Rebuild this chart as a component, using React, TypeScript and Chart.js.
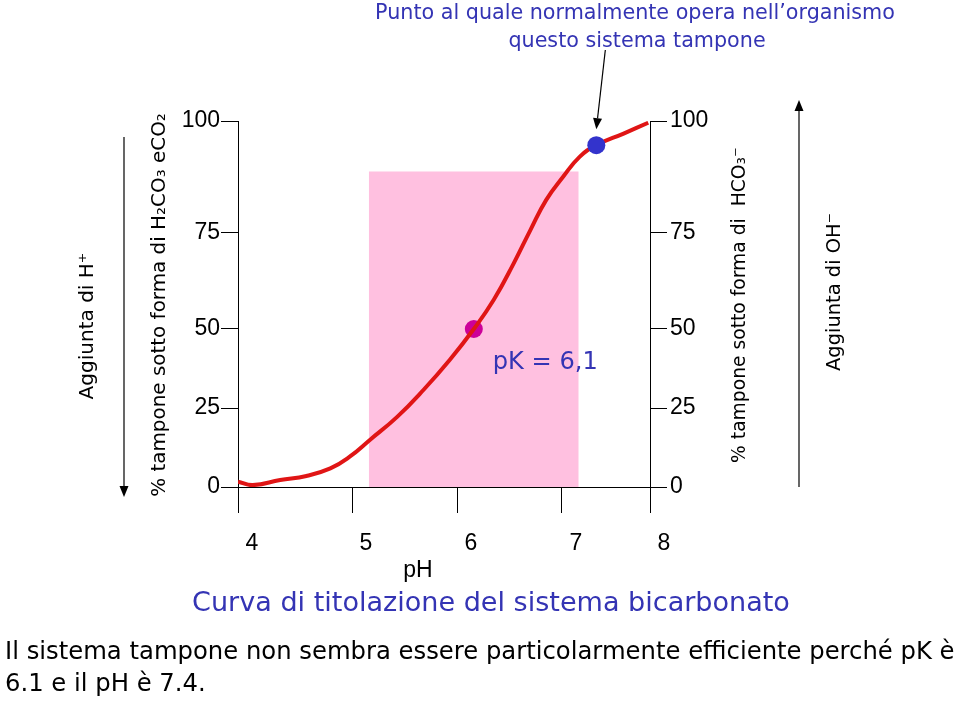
import React, { useEffect, useRef } from 'react';
import { Chart, registerables, LinearScale } from 'chart.js';

Chart.register(...registerables);

// ---------- data ----------
const PH_TICKS = [4, 5, 6, 7, 8];
const PCT_TICKS = [0, 25, 50, 75, 100];

const CURVE_PH = [4.0, 4.13, 4.37, 4.6, 4.81, 4.98, 5.17, 5.43, 5.68, 5.93, 6.16, 6.35, 6.54, 6.7, 6.85, 7.015, 7.2, 7.39, 7.7, 7.98];
const CURVE_PCT = [1.7, 0.6, 2.2, 3.5, 5.9, 9.6, 14.9, 22.2, 30.7, 40.2, 50.0, 57.6, 67.1, 75.7, 82.4, 87.6, 92.0, 94.6, 97.2, 99.6];

const PK_POINT = [6.16, 50];
const BLOOD_POINT = [7.39, 94.6];
const BUFFER_RANGE_PH = [5.16, 7.19];
const BUFFER_RANGE_TOP = 88.7;

// ---------- texts ----------
const TOP_NOTE = ['Punto al quale normalmente opera nell\u2019organismo', 'questo sistema tampone'];
const PK_LABEL = 'pK = 6,1';
const X_TITLE = 'pH';
const CAPTION = 'Curva di titolazione del sistema bicarbonato';
const NOTE = ['Il sistema tampone non sembra essere particolarmente efficiente perch\u00e9 pK \u00e8', '6.1 e il pH \u00e8 7.4.'];
const LEFT_OUTER = 'Aggiunta di H\u207A';
const LEFT_TITLE = '% tampone sotto forma di H\u2082CO\u2083 eCO\u2082';
const RIGHT_TITLE = '% tampone sotto forma di  HCO\u2083\u207B';
const RIGHT_OUTER = 'Aggiunta di OH\u207B';

// ---------- scale layout (the drawing's uneven tick spacing) ----------
const X_TICK_FRACS = [0, 0.2767, 0.5316, 0.7864, 1];
const Y_TICK_FRACS = [0, 0.2158, 0.4317, 0.694, 1];
const WARPS: Record<string, { values: number[]; fracs: number[] }> = {
  x: { values: PH_TICKS, fracs: X_TICK_FRACS },
  y: { values: PCT_TICKS, fracs: Y_TICK_FRACS },
  y2: { values: PCT_TICKS, fracs: Y_TICK_FRACS },
};

function interp(from: number[], to: number[], v: number) {
  const n = from.length;
  let i = 0;
  if (v >= from[n - 1]) i = n - 2;
  else if (v > from[0]) {
    while (i < n - 2 && v > from[i + 1]) i++;
  }
  const t = (v - from[i]) / (from[i + 1] - from[i]);
  return to[i] + t * (to[i + 1] - to[i]);
}

class WarpScale extends LinearScale {
  static id = 'warp';
  static defaults = LinearScale.defaults;
  getPixelForValue(value: any) {
    if (value === null || value === undefined || Number.isNaN(value)) return NaN;
    const w = WARPS[(this as any).id];
    if (!w) return super.getPixelForValue(value);
    return this.getPixelForDecimal(interp(w.values, w.fracs, value));
  }
  getValueForPixel(pixel: number) {
    const w = WARPS[(this as any).id];
    if (!w) return super.getValueForPixel(pixel);
    return interp(w.fracs, w.values, this.getDecimalForPixel(pixel));
  }
}
Chart.register(WarpScale as any);

// ---------- styles ----------
const BLUE = '#3434b4';
const TEXT_FAMILY = '"DejaVu Sans", sans-serif';
const NUM_FAMILY = '"Liberation Sans", Arial, sans-serif';

function sizeFor(ctx: CanvasRenderingContext2D, text: string, width: number, family: string) {
  ctx.font = `100px ${family}`;
  return (100 * width) / ctx.measureText(text).width;
}

function put(ctx: CanvasRenderingContext2D, text: string, x: number, y: number, size: number, color: string, align: CanvasTextAlign, family: string, rot = 0) {
  ctx.save();
  ctx.translate(x, y);
  if (rot) ctx.rotate(rot);
  ctx.font = `${size}px ${family}`;
  ctx.fillStyle = color;
  ctx.textAlign = align;
  ctx.textBaseline = 'middle';
  ctx.fillText(text, 0, 0);
  ctx.restore();
}

function arrow(ctx: CanvasRenderingContext2D, x1: number, y1: number, x2: number, y2: number, head = 11, half = 4.5) {
  const a = Math.atan2(y2 - y1, x2 - x1);
  const bx = x2 - Math.cos(a) * head;
  const by = y2 - Math.sin(a) * head;
  ctx.beginPath();
  ctx.moveTo(x1, y1);
  ctx.lineTo(bx, by);
  ctx.stroke();
  ctx.beginPath();
  ctx.moveTo(x2, y2);
  ctx.lineTo(bx + Math.sin(a) * half, by - Math.cos(a) * half);
  ctx.lineTo(bx - Math.sin(a) * half, by + Math.cos(a) * half);
  ctx.closePath();
  ctx.fill();
}

const annotations = {
  id: 'annotations',
  afterDraw(chart: any) {
    const ctx: CanvasRenderingContext2D = chart.ctx;
    const xs = chart.scales.x;
    const ys = chart.scales.y;
    ctx.save();

    const topSize = sizeFor(ctx, TOP_NOTE[0], 520, TEXT_FAMILY);
    put(ctx, TOP_NOTE[0], 635, 14, topSize, BLUE, 'center', TEXT_FAMILY);
    put(ctx, TOP_NOTE[1], 637, 42, topSize, BLUE, 'center', TEXT_FAMILY);

    const px = xs.getPixelForValue(PK_POINT[0]);
    const py = ys.getPixelForValue(PK_POINT[1]);
    put(ctx, PK_LABEL, px + 19, py + 34, sizeFor(ctx, PK_LABEL, 105, TEXT_FAMILY), BLUE, 'left', TEXT_FAMILY);

    put(ctx, X_TITLE, 418, 571, 23, '#000', 'center', NUM_FAMILY);
    put(ctx, CAPTION, 491, 604, sizeFor(ctx, CAPTION, 598, TEXT_FAMILY), BLUE, 'center', TEXT_FAMILY);

    const noteSize = sizeFor(ctx, NOTE[0], 950, TEXT_FAMILY);
    put(ctx, NOTE[0], 5, 653, noteSize, '#000', 'left', TEXT_FAMILY);
    put(ctx, NOTE[1], 5, 685, noteSize, '#000', 'left', TEXT_FAMILY);

    const up = -Math.PI / 2;
    put(ctx, LEFT_OUTER, 88, 326, sizeFor(ctx, LEFT_OUTER, 147, TEXT_FAMILY), '#000', 'center', TEXT_FAMILY, up);
    put(ctx, LEFT_TITLE, 160, 305, sizeFor(ctx, LEFT_TITLE, 384, TEXT_FAMILY), '#000', 'center', TEXT_FAMILY, up);
    put(ctx, RIGHT_TITLE, 740, 305, sizeFor(ctx, RIGHT_TITLE, 316, TEXT_FAMILY), '#000', 'center', TEXT_FAMILY, up);
    put(ctx, RIGHT_OUTER, 835, 292, sizeFor(ctx, RIGHT_OUTER, 158, TEXT_FAMILY), '#000', 'center', TEXT_FAMILY, up);

    ctx.strokeStyle = '#000';
    ctx.fillStyle = '#000';
    ctx.lineWidth = 1.2;
    arrow(ctx, 124, 137, 124, 497);
    arrow(ctx, 799, 487, 799, 100);
    const bx = xs.getPixelForValue(BLOOD_POINT[0]);
    const by = ys.getPixelForValue(BLOOD_POINT[1]);
    arrow(ctx, bx + 9, 50, bx, by - 16);

    ctx.restore();
  },
};

const tickFont = { family: NUM_FAMILY, size: 23 };

export default function App() {
  const ref = useRef<HTMLCanvasElement>(null);
  useEffect(() => {
    if (!ref.current) return;
    const chart = new Chart(ref.current, {
      type: 'line',
      data: {
        datasets: [
          {
            label: 'blood',
            data: [{ x: BLOOD_POINT[0], y: BLOOD_POINT[1] }],
            showLine: false,
            pointRadius: 9,
            pointBackgroundColor: '#3333cc',
            pointBorderWidth: 0,
            order: 1,
          },
          {
            label: 'curve',
            data: CURVE_PH.map((x, i) => ({ x, y: CURVE_PCT[i] })),
            borderColor: '#e01515',
            borderWidth: 4,
            pointRadius: 0,
            tension: 0.45,
            fill: false,
            order: 2,
          },
          {
            label: 'pK',
            data: [{ x: PK_POINT[0], y: PK_POINT[1] }],
            showLine: false,
            pointRadius: 9,
            pointBackgroundColor: '#cc0099',
            pointBorderWidth: 0,
            order: 3,
          },
          {
            label: 'range',
            data: BUFFER_RANGE_PH.map((x) => ({ x, y: BUFFER_RANGE_TOP })),
            borderWidth: 0,
            borderColor: 'rgba(0,0,0,0)',
            backgroundColor: '#ffc0e0',
            pointRadius: 0,
            fill: 'origin',
            order: 4,
          },
        ],
      } as any,
      options: {
        responsive: false,
        animation: false,
        events: [],
        layout: { padding: { top: 121, left: 0, right: 0, bottom: 0 } },
        plugins: {
          legend: { display: false },
          tooltip: { enabled: false },
          title: { display: false },
        },
        scales: {
          x: {
            type: 'warp',
            min: 4,
            max: 8,
            ticks: { stepSize: 1, font: tickFont, color: '#000', padding: 17, labelOffset: 14, maxRotation: 0, autoSkip: false },
            grid: { drawOnChartArea: false, color: '#000', tickLength: 26, lineWidth: 1 },
            border: { color: '#000', width: 1 },
            afterFit: (s: any) => { s.height = 215; },
          },
          y: {
            type: 'warp',
            position: 'left',
            min: 0,
            max: 100,
            ticks: { stepSize: 25, font: tickFont, color: '#000', padding: 1 },
            grid: { drawOnChartArea: false, color: '#000', tickLength: 17, lineWidth: 1 },
            border: { color: '#000', width: 1 },
            afterFit: (s: any) => { s.width = 238; },
          },
          y2: {
            type: 'warp',
            position: 'right',
            min: 0,
            max: 100,
            ticks: { stepSize: 25, font: tickFont, color: '#000', padding: 3 },
            grid: { drawOnChartArea: false, color: '#000', tickLength: 17, lineWidth: 1 },
            border: { color: '#000', width: 1 },
            afterFit: (s: any) => { s.width = 310; },
          },
        },
      } as any,
      plugins: [annotations],
    });
    return () => chart.destroy();
  }, []);

  return (
    <div style={{ position: 'absolute', left: 0, top: 0, width: 960, height: 702, background: '#fff' }}>
      <canvas ref={ref} width={960} height={702} style={{ display: 'block' }} />
    </div>
  );
}
